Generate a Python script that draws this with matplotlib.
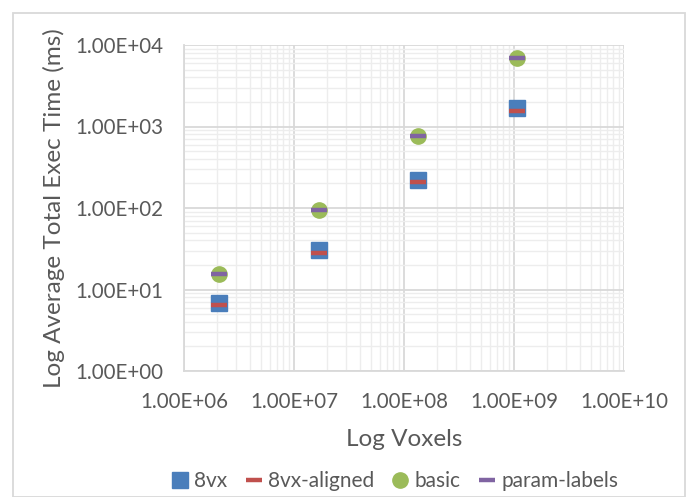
import matplotlib
matplotlib.use("Agg")
import matplotlib.pyplot as plt
from matplotlib.ticker import LogLocator, FixedLocator
from matplotlib.patches import Rectangle

voxels = [128**3, 256**3, 512**3, 1024**3]
t_8vx = [6.84, 30.3, 220, 1674]
t_8vx_aligned = [6.54, 27.7, 210, 1563]
t_basic = [15.3, 94.2, 764, 6890]
t_param_labels = [15.3, 94.2, 764, 6890]
xticks = [1e6, 1e7, 1e8, 1e9, 1e10]
xtick_labels = ["1.00E+06", "1.00E+07", "1.00E+08", "1.00E+09", "1.00E+10"]
yticks = [1e0, 1e1, 1e2, 1e3, 1e4]
ytick_labels = ["1.00E+00", "1.00E+01", "1.00E+02", "1.00E+03", "1.00E+04"]

plt.rcParams['font.family'] = ['Lato', 'DejaVu Sans']
txt = '#595959'

W, H = 691, 497
fig = plt.figure(figsize=(W/100, H/100), dpi=100)
ax = fig.add_axes([184/W, 1-371/H, (624-184)/W, (371-45)/H])
ax.set_xscale('log')
ax.set_yscale('log')
ax.set_xlim(1e6, 1e10)
ax.set_ylim(1e0, 1e4)

ms = 11
ax.plot(voxels, t_8vx, linestyle='none', marker='s', ms=ms, color='#4a7ebb', mec='#4a7ebb', label='8vx', zorder=3)
ax.plot(voxels, t_8vx_aligned, linestyle='none', marker='_', ms=ms, mew=3.2, color='#c0504d', label='8vx-aligned', zorder=4)
ax.plot(voxels, t_basic, linestyle='none', marker='o', ms=ms, color='#9bbb59', mec='#9bbb59', label='basic', zorder=3)
ax.plot(voxels, t_param_labels, linestyle='none', marker='_', ms=ms, mew=3.2, color='#8064a2', label='param-labels', zorder=4)

ax.xaxis.set_major_locator(FixedLocator(xticks))
ax.yaxis.set_major_locator(FixedLocator(yticks))
ax.set_xticklabels(xtick_labels)
ax.set_yticklabels(ytick_labels)
ax.xaxis.set_minor_locator(LogLocator(base=10, subs=range(2, 10), numticks=20))
ax.yaxis.set_minor_locator(LogLocator(base=10, subs=range(2, 10), numticks=20))
ax.tick_params(which='both', length=0, colors=txt, labelsize=14.8)
ax.tick_params(axis='x', pad=15)
ax.tick_params(axis='y', pad=15)
ax.grid(which='major', color='#d9d9d9', lw=1.3)
ax.grid(which='minor', color='#ededed', lw=1.0)
ax.set_axisbelow(True)
for s in ['top', 'right']:
    ax.spines[s].set_visible(False)
for s in ['left', 'bottom']:
    ax.spines[s].set_color('#d9d9d9')
    ax.spines[s].set_linewidth(1.3)

ax.set_xlabel('Log Voxels', fontsize=17.5, color=txt, labelpad=12)
ax.set_ylabel('Log Average Total Exec Time (ms)', fontsize=17.5, color=txt, labelpad=7)

leg = fig.legend(loc='center', bbox_to_anchor=(395/W, 1-481/H), ncol=4, frameon=False,
                 fontsize=15, handlelength=0.8, handletextpad=0.3, columnspacing=0.85,
                 labelcolor=txt)

fig.patches.append(Rectangle((13/W, 0), (685-13)/W, 1-13/H, transform=fig.transFigure,
                             fill=False, edgecolor='#d9d9d9', lw=1.3))
fig.savefig('out.png', dpi=100)
